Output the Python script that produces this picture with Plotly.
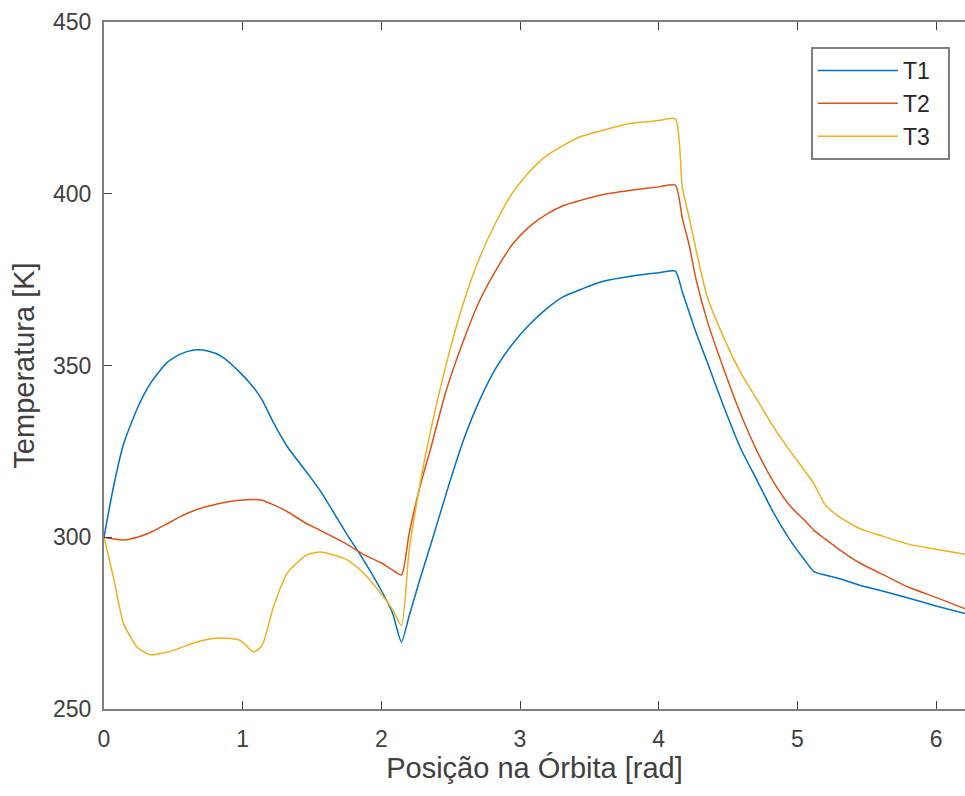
import plotly.graph_objects as go

x = [0, 0.07, 0.14, 0.24, 0.33, 0.45, 0.55, 0.65, 0.75, 0.85, 0.98, 1.08, 1.14, 1.22,
     1.32, 1.46, 1.56, 1.75, 1.87, 2.0, 2.08, 2.145, 2.2, 2.28, 2.35, 2.47, 2.59, 2.71,
     2.83, 2.95, 3.07, 3.19, 3.31, 3.43, 3.6, 3.8, 4.0, 4.12, 4.17, 4.22, 4.27, 4.35,
     4.46, 4.59, 4.71, 4.83, 4.95, 5.05, 5.12, 5.2, 5.3, 5.45, 5.6, 5.8, 6.0, 6.283]

T1 = [300, 315, 327, 337.5, 344.5, 350.7, 353.3, 354.5, 354.2, 352.6, 348, 343.5, 340, 333.5,
      326.5, 319, 313.5, 301, 293.5, 284.5, 278, 269.5, 277, 288, 297, 313, 328, 340,
      349.5, 356.5, 362, 366.5, 370, 372, 374.5, 376, 377, 377.5, 371.5, 365.5, 359.5, 351,
      339, 326, 316.5, 307, 299, 293.5, 290, 289, 288, 286, 284.5, 282.3, 280, 277]

T2 = [300, 299.5, 299.2, 300, 301.3, 303.8, 306, 307.8, 309, 310, 310.8, 311, 310.8, 309.5,
      307.5, 304, 302, 298, 295, 292.5, 290.5, 289, 301, 315, 325, 343, 357, 369,
      378, 385.5, 390.5, 394, 396.5, 398, 399.8, 401, 402, 402.5, 393, 385, 375, 363,
      350, 336, 325, 316, 309, 305, 302, 299.5, 296.5, 292.5, 289.5, 285.5, 282.5, 278]

T3 = [300, 288, 275, 268, 265.8, 266.5, 267.8, 269.3, 270.3, 270.7, 270, 266.6, 268.5, 279.5,
      289.5, 294.8, 295.7, 293.5, 289.6, 283.5, 279, 274.3, 296, 315.7, 330, 350.7, 368, 381.5,
      392, 400.5, 406.5, 411, 414, 416.5, 418.5, 420.5, 421.3, 421.8, 402, 393, 383.6, 370,
      359, 348, 340, 332, 325, 319.5, 315.5, 309.5, 306, 302.5, 300.5, 298, 296.5, 294.5]

series_names = ["T1", "T2", "T3"]
series_colors = ["#0072BD", "#D95319", "#EDB120"]

x_ticks = [0, 1, 2, 3, 4, 5, 6]
y_ticks = [250, 300, 350, 400, 450]

FONT = "Liberation Sans, Arial, sans-serif"
NBSP = "\u00a0"

fig = go.Figure()
for name, vals, col in zip(series_names, [T1, T2, T3], series_colors):
    fig.add_trace(go.Scatter(x=x, y=vals, mode="lines", name=name + NBSP * 2,
                             line=dict(color=col, width=1.5, shape="spline", smoothing=0.6)))

axis_font = dict(family=FONT, size=23, color="#404040")

fig.update_layout(
    width=965, height=796,
    margin=dict(l=104, r=0, t=22, b=87, autoexpand=False),
    paper_bgcolor="white", plot_bgcolor="white",
    font=dict(family=FONT, color="#404040"),
    showlegend=True,
    legend=dict(x=0.8211, y=0.9636, xanchor="left", yanchor="top",
                bgcolor="white", bordercolor="#808080", borderwidth=2,
                font=dict(family=FONT, size=23, color="#262626"),
                itemwidth=80, tracegroupgap=0),
)
fig.update_xaxes(range=[0, 6.209], tickvals=x_ticks, ticks="inside", ticklen=8,
                 tickcolor="#404040", showline=True, linecolor="#808080", linewidth=2,
                 mirror="allticks", showgrid=False, zeroline=False, tickfont=axis_font,
                 ticklabelstandoff=8, automargin=False,
                 title=dict(text="Posição na Órbita [rad]", standoff=0,
                            font=dict(family=FONT, size=29, color="#404040")))
fig.update_yaxes(range=[250, 450], tickvals=y_ticks, ticks="inside", ticklen=8,
                 tickcolor="#404040", showline=True, linecolor="#808080", linewidth=2,
                 mirror=False, showgrid=False, zeroline=False, tickfont=axis_font,
                 ticklabelstandoff=6, automargin=False,
                 title=dict(text="Temperatura [K]", standoff=10,
                            font=dict(family=FONT, size=29, color="#404040")))

fig.write_html("out.html", config={"displayModeBar": False},
               post_script="document.body.style.margin='0';document.body.style.overflow='hidden';")
